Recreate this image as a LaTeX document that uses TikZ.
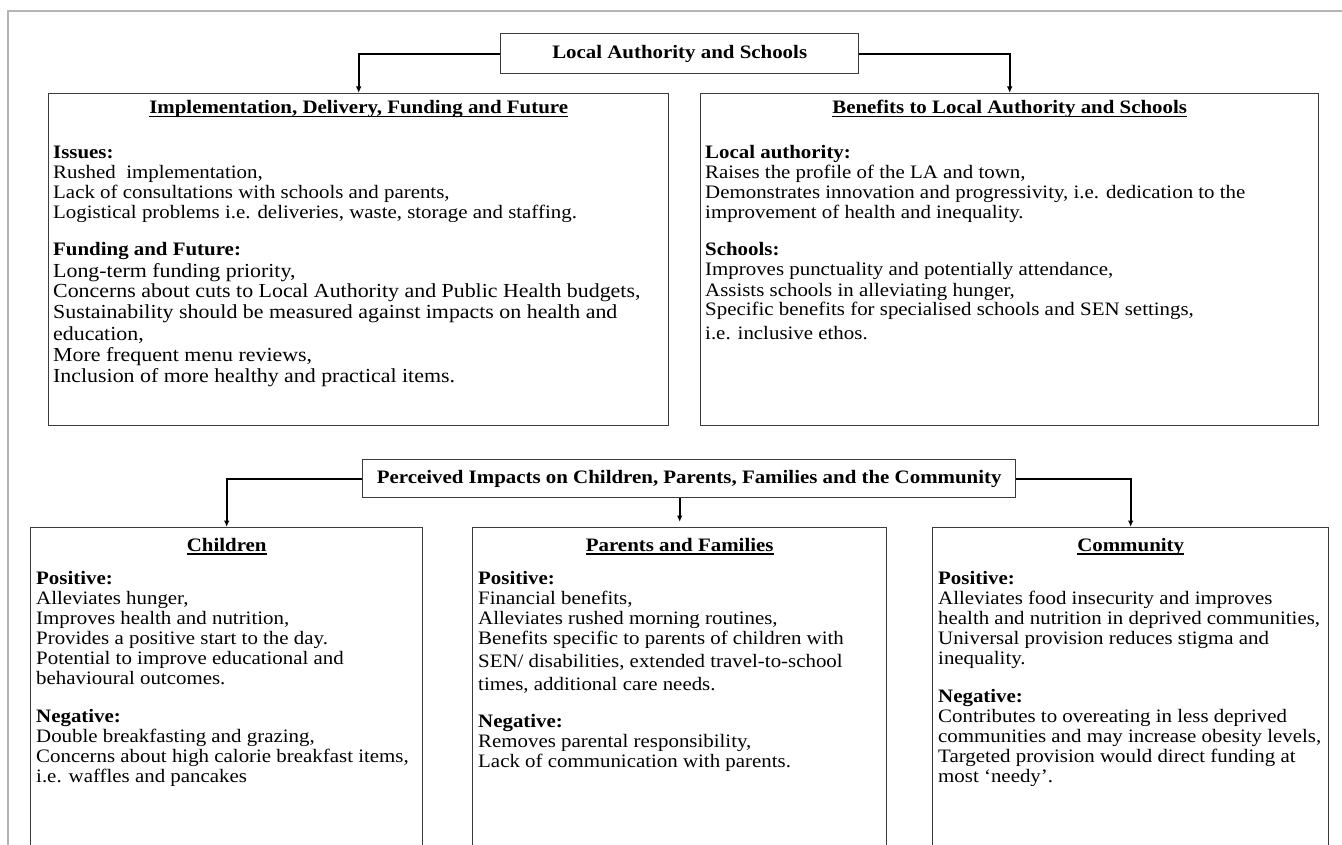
\documentclass[tikz,border=0pt]{standalone}
\usepackage{fontspec}
\setmainfont{Liberation Serif}[FakeStretch=1.1]
\usetikzlibrary{arrows.meta}
\definecolor{framegray}{HTML}{B4B4B4}
\definecolor{boxline}{HTML}{3C3C3C}
\newcommand\ulx[1]{\setbox0\hbox{#1}\rlap{\rule[-3.5pt]{\wd0}{1.4pt}}\box0}
\newcommand\bodysize{\fontsize{19}{20}\selectfont}
\newcommand\bigsize{\fontsize{19.9}{21}\selectfont}
\begin{document}
\begin{tikzpicture}[x=1pt,y=-1pt,
  box/.style={draw=boxline, line width=1.4pt, inner sep=0, anchor=north west},
  headbox/.style={box, fill=white, font=\bodysize\bfseries},
  conn/.style={line width=2pt, draw=black, -{Latex[length=6.5pt,width=5.5pt]}},
  ln/.style={anchor=base west, inner sep=0, font=\bodysize},
  lnb/.style={anchor=base west, inner sep=0, font=\bigsize},
  hd/.style={anchor=base west, inner sep=0, font=\bodysize\bfseries},
  ttl/.style={anchor=base, inner sep=0, font=\bodysize\bfseries},
]
\useasboundingbox (0,0) rectangle (1342,845);
\fill[white] (0,0) rectangle (1342,845);
\draw[framegray, line width=2pt] (8,845) -- (8,11) -- (1342,11);

% ---------- top level ----------
\node[headbox, minimum width=358pt, minimum height=40pt] (las) at (500,33) {Local Authority and Schools};
\node[box, minimum width=620pt, minimum height=332pt] (impl) at (48,93) {};
\node[box, minimum width=618pt, minimum height=332pt] (ben) at (700,93) {};

\draw[conn] (las.west) -| (impl.north);
\draw[conn] (las.east) -| (ben.north);

% Implementation box
\node[ttl] (implT) at (impl.north |- 0,114) {\ulx{Implementation, Delivery, Funding and Future}};
\node[hd] (implH1) at (53,159) {Issues:};
\foreach \yy/\t [count=\i] in {179/{Rushed\ \ implementation,},
  199/{Lack of consultations with schools and parents,},
  219/{Logistical problems i.e. deliveries, waste, storage and staffing.}}
  \node[ln] (implA\i) at (53,\yy) {\t};
\node[hd] (implH2) at (53,256) {Funding and Future:};
\foreach \yy/\t [count=\i] in {277/{Long-term funding priority,},
  298/{Concerns about cuts to Local Authority and Public Health budgets,},
  319/{Sustainability should be measured against impacts on health and},
  340/{education,},
  361/{More frequent menu reviews,},
  382/{Inclusion of more healthy and practical items.}}
  \node[lnb] (implB\i) at (53,\yy) {\t};

% Benefits box
\node[ttl] (benT) at (ben.north |- 0,114) {\ulx{Benefits to Local Authority and Schools}};
\node[hd] (benH1) at (705,159) {Local authority:};
\foreach \yy/\t [count=\i] in {179/{Raises the profile of the LA and town,},
  199/{Demonstrates innovation and progressivity, i.e. dedication to the},
  219/{improvement of health and inequality.}}
  \node[ln] (benA\i) at (705,\yy) {\t};
\node[hd] (benH2) at (705,256) {Schools:};
\foreach \yy/\t [count=\i] in {276/{Improves punctuality and potentially attendance,},
  296/{Assists schools in alleviating hunger,},
  316/{Specific benefits for specialised schools and SEN settings,},
  339/{i.e. inclusive ethos.}}
  \node[ln] (benB\i) at (705,\yy) {\t};

% ---------- second level ----------
\node[headbox, minimum width=653pt, minimum height=38pt] (pic) at (362,459) {Perceived Impacts on Children, Parents, Families and the Community};
\node[box, minimum width=392pt, minimum height=345pt] (chi) at (30,527) {};
\node[box, minimum width=414pt, minimum height=345pt] (par) at (472,527) {};
\node[box, minimum width=396pt, minimum height=345pt] (com) at (932,527) {};

\draw[conn] (pic.west) -| (chi.north);
\draw[conn, shorten >=5pt] (pic.south -| par.north) -- (par.north);
\draw[conn] (pic.east) -| (com.north);

% Children
\node[ttl] (chiT) at (chi.north |- 0,551) {\ulx{Children}};
\node[hd] (chiH1) at (36,584) {Positive:};
\foreach \yy/\t [count=\i] in {604/{Alleviates hunger,},
  624/{Improves health and nutrition,},
  644/{Provides a positive start to the day.},
  664/{Potential to improve educational and},
  684/{behavioural outcomes.}}
  \node[ln] (chiA\i) at (36,\yy) {\t};
\node[hd] (chiH2) at (36,722) {Negative:};
\foreach \yy/\t [count=\i] in {742/{Double breakfasting and grazing,},
  762/{Concerns about high calorie breakfast items,},
  782/{i.e. waffles and pancakes}}
  \node[ln] (chiB\i) at (36,\yy) {\t};

% Parents and Families
\node[ttl] (parT) at (par.north |- 0,551) {\ulx{Parents and Families}};
\node[hd] (parH1) at (478,584) {Positive:};
\foreach \yy/\t [count=\i] in {604/{Financial benefits,},
  624/{Alleviates rushed morning routines,},
  644/{Benefits specific to parents of children with},
  667/{SEN/ disabilities, extended travel-to-school},
  690/{times, additional care needs.}}
  \node[ln] (parA\i) at (478,\yy) {\t};
\node[hd] (parH2) at (478,727) {Negative:};
\foreach \yy/\t [count=\i] in {747/{Removes parental responsibility,},
  767/{Lack of communication with parents.}}
  \node[ln] (parB\i) at (478,\yy) {\t};

% Community
\node[ttl] (comT) at (com.north |- 0,551) {\ulx{Community}};
\node[hd] (comH1) at (938,584) {Positive:};
\foreach \yy/\t [count=\i] in {604/{Alleviates food insecurity and improves},
  624/{health and nutrition in deprived communities,},
  644/{Universal provision reduces stigma and},
  664/{inequality.}}
  \node[ln] (comA\i) at (938,\yy) {\t};
\node[hd] (comH2) at (938,702) {Negative:};
\foreach \yy/\t [count=\i] in {722/{Contributes to overeating in less deprived},
  742/{communities and may increase obesity levels,},
  762/{Targeted provision would direct funding at},
  782/{most ‘needy’.}}
  \node[ln] (comB\i) at (938,\yy) {\t};
\end{tikzpicture}
\end{document}
